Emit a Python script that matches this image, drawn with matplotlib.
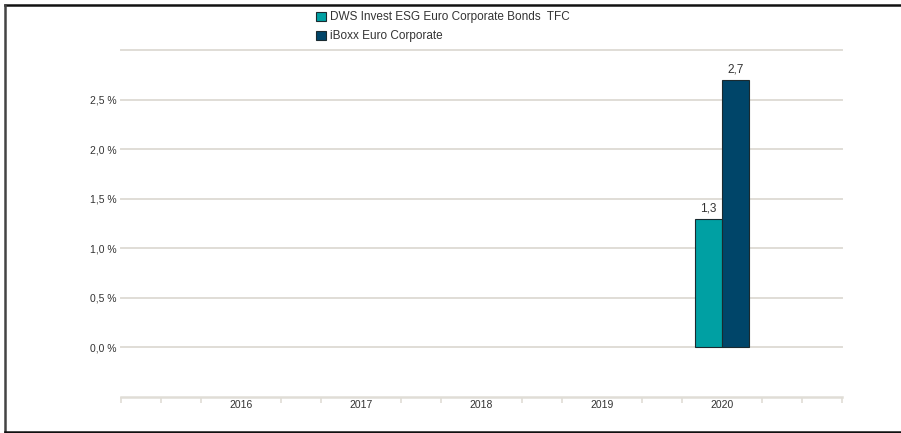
"""Balkendiagramm: Wertentwicklung pro Kalenderjahr."""

import matplotlib
matplotlib.use('Agg')
import matplotlib.pyplot as plt
from matplotlib.lines import Line2D
from matplotlib.ticker import FixedLocator, MultipleLocator

years = ['2016', '2017', '2018', '2019', '2020']
fund_name = 'DWS Invest ESG Euro Corporate Bonds  TFC'
index_name = 'iBoxx Euro Corporate'
# nur 2020 hat Werte
fund_values = [None, None, None, None, 1.3]
index_values = [None, None, None, None, 2.7]
y_ticks = [0.0, 0.5, 1.0, 1.5, 2.0, 2.5]

FUND_COLOR = '#00a0a3'
INDEX_COLOR = '#004569'
GRID_COLOR = '#e0ddd6'
TEXT_COLOR = '#333333'


def main():
    plt.rcParams['font.family'] = ['Liberation Sans', 'DejaVu Sans']

    fig = plt.figure(figsize=(9.01, 4.33), dpi=100)
    ax = fig.add_axes([121 / 901, 36 / 433, 721 / 901, 347 / 433])

    xs = list(range(1, len(years) + 1))
    width = 0.225
    for i, x in enumerate(xs):
        if fund_values[i] is not None:
            ax.bar(x - width / 2, fund_values[i], width, color=FUND_COLOR,
                   edgecolor='#1a2a30', linewidth=0.8, zorder=3)
            ax.text(x - width / 2, fund_values[i] + 0.04,
                    '{:.1f}'.format(fund_values[i]).replace('.', ','),
                    ha='center', va='bottom', fontsize=8.5, color=TEXT_COLOR)
        if index_values[i] is not None:
            ax.bar(x + width / 2, index_values[i], width, color=INDEX_COLOR,
                   edgecolor='#1a2a30', linewidth=0.8, zorder=3)
            ax.text(x + width / 2, index_values[i] + 0.04,
                    '{:.1f}'.format(index_values[i]).replace('.', ','),
                    ha='center', va='bottom', fontsize=8.5, color=TEXT_COLOR)

    ax.set_xlim(0, len(years) + 1)
    ax.set_ylim(-0.5, 3.0)

    # Gitterlinien von 0 bis 3
    for g in y_ticks + [3.0]:
        ax.axhline(g, color=GRID_COLOR, linewidth=1.4, zorder=1,
                   clip_on=False)

    ax.yaxis.set_major_locator(FixedLocator(y_ticks))
    ax.set_yticklabels(['{:.1f} %'.format(v).replace('.', ',') for v in y_ticks])
    ax.tick_params(axis='y', length=0, pad=3, labelsize=7.5,
                   labelcolor=TEXT_COLOR)

    ax.xaxis.set_major_locator(FixedLocator(xs))
    ax.set_xticklabels(years)
    ax.xaxis.set_minor_locator(MultipleLocator(1 / 3))
    ax.tick_params(axis='x', which='major', length=0, pad=2, labelsize=7.5,
                   labelcolor=TEXT_COLOR)
    ax.tick_params(axis='x', which='minor', length=4, width=1.2,
                   color=GRID_COLOR)

    for side in ['top', 'right', 'left']:
        ax.spines[side].set_visible(False)
    ax.spines['bottom'].set_color(GRID_COLOR)
    ax.spines['bottom'].set_linewidth(1.8)

    handles = [plt.Rectangle((0, 0), 1, 1, facecolor=FUND_COLOR,
                             edgecolor='#1a2a30', linewidth=0.8),
               plt.Rectangle((0, 0), 1, 1, facecolor=INDEX_COLOR,
                             edgecolor='#1a2a30', linewidth=0.8)]
    fig.legend(handles, [fund_name, index_name], loc='upper left',
               bbox_to_anchor=(308 / 901, 1 - 3 / 433), frameon=False,
               fontsize=8.5, handlelength=0.8, handleheight=0.8,
               handletextpad=0.4, labelspacing=0.6, borderpad=0.2,
               labelcolor=TEXT_COLOR)

    # Rahmen oben, links, unten
    fig.add_artist(Line2D([4.5 / 901, 1], [1 - 4.5 / 433, 1 - 4.5 / 433],
                          color='#111111', linewidth=1.8,
                          transform=fig.transFigure))
    fig.add_artist(Line2D([4.5 / 901, 4.5 / 901], [1.5 / 433, 1 - 4.5 / 433],
                          color='#444444', linewidth=1.8,
                          transform=fig.transFigure))
    fig.add_artist(Line2D([4.5 / 901, 1], [1.5 / 433, 1.5 / 433],
                          color='#111111', linewidth=1.8,
                          transform=fig.transFigure))

    fig.savefig('out.png', dpi=100)


if __name__ == "__main__":
    main()
